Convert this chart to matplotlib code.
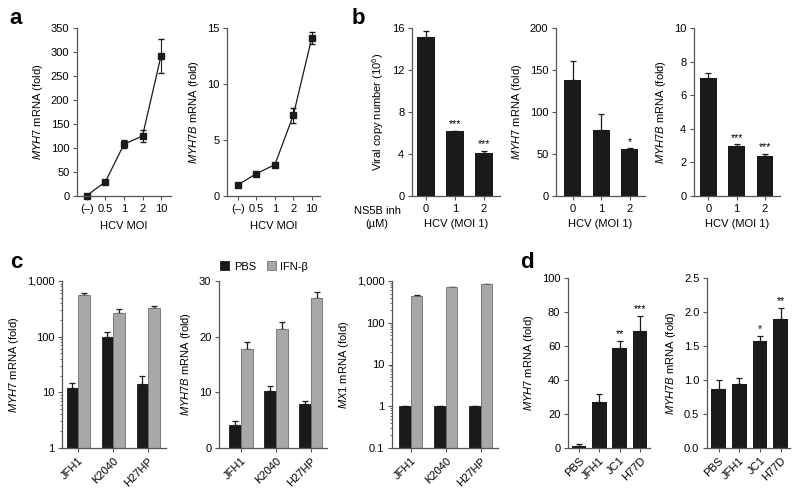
import matplotlib.pyplot as plt
import numpy as np

plt.rcParams['font.family'] = ['Liberation Sans', 'DejaVu Sans']
plt.rcParams['mathtext.fontset'] = 'custom'
plt.rcParams['mathtext.rm'] = 'Liberation Sans'
plt.rcParams['mathtext.it'] = 'Liberation Sans:italic'
plt.rcParams['font.size'] = 8

W, H = 800, 495
DARK = '#1a1a1a'
GRAY = '#a8a8a8'
SPINE = '#555555'
FS = 8

# ---- panel a ----
moi_labels = ['(–)', '0.5', '1', '2', '10']
a_myh7 = [1, 30, 108, 125, 292]
a_myh7_err = [2, 4, 9, 13, 35]
a_myh7b = [1.0, 2.0, 2.8, 7.2, 14.1]
a_myh7b_err = [0.1, 0.1, 0.15, 0.65, 0.55]

# ---- panel b ----
ns5b_doses = ['0', '1', '2']
b_viral = [15.1, 6.15, 4.1]
b_viral_err = [0.6, 0.05, 0.2]
b_viral_sig = ['', '***', '***']
b_myh7 = [138, 78, 56]
b_myh7_err = [23, 20, 1]
b_myh7_sig = ['', '', '*']
b_myh7b = [7.05, 3.0, 2.38]
b_myh7b_err = [0.3, 0.07, 0.12]
b_myh7b_sig = ['', '***', '***']

# ---- panel c ----
strains_c = ['JFH1', 'K2040', 'H27HP']
c_myh7_pbs = [12, 100, 14]
c_myh7_pbs_err = [3, 20, 6]
c_myh7_ifn = [550, 270, 330]
c_myh7_ifn_err = [50, 50, 30]
c_myh7b_pbs = [4.2, 10.2, 7.9]
c_myh7b_pbs_err = [0.6, 0.9, 0.5]
c_myh7b_ifn = [17.7, 21.3, 26.9]
c_myh7b_ifn_err = [1.4, 1.3, 1.1]
c_mx1_pbs = [1.0, 1.0, 1.0]
c_mx1_pbs_err = [0.03, 0.03, 0.03]
c_mx1_ifn = [430, 700, 830]
c_mx1_ifn_err = [25, 10, 15]

# ---- panel d ----
strains_d = ['PBS', 'JFH1', 'JC1', 'H77D']
d_myh7 = [1.4, 27.2, 59, 69]
d_myh7_err = [1.0, 4.8, 4, 8.8]
d_myh7_sig = ['', '', '**', '***']
d_myh7b = [0.87, 0.94, 1.57, 1.89]
d_myh7b_err = [0.13, 0.09, 0.08, 0.17]
d_myh7b_sig = ['', '', '*', '**']

fig = plt.figure(figsize=(W / 100, H / 100), dpi=100)


def make_ax(x0, x1, y0, y1):
    ax = fig.add_axes([x0 / W, 1 - y1 / H, (x1 - x0) / W, (y1 - y0) / H])
    for s in ['top', 'right']:
        ax.spines[s].set_visible(False)
    for s in ['left', 'bottom']:
        ax.spines[s].set_color(SPINE)
        ax.spines[s].set_linewidth(0.9)
    ax.tick_params(direction='out', length=3, width=0.8, color=SPINE,
                   labelsize=FS, pad=2.5)
    ax.tick_params(which='minor', length=1.6, width=0.6, color=SPINE)
    return ax


def ylab(ax, gene):
    ax.set_ylabel(r'$\it{' + gene + '}$ mRNA (fold)', fontsize=FS, labelpad=4)


def upper_err(ax, x, vals, errs):
    ax.errorbar(x, vals, yerr=[np.zeros(len(errs)), errs], fmt='none',
                ecolor=DARK, elinewidth=0.9, capsize=2.5, capthick=0.9, zorder=1)


def stars(ax, x, vals, errs, sig, off):
    for xi, v, e, s in zip(x, vals, errs, sig):
        if s:
            ax.text(xi, v + e + off, s, ha='center', va='bottom', fontsize=7.5)


# ---------- a ----------
ax = make_ax(77, 171, 28, 196)
x = np.arange(len(moi_labels))
ax.errorbar(x, a_myh7, yerr=a_myh7_err, fmt='-s', color=DARK, ms=4.5, lw=0.9,
            capsize=2.5, elinewidth=0.8, clip_on=False)
ax.set_xlim(-0.54, 4.54)
ax.set_ylim(0, 350)
ax.set_yticks(range(0, 351, 50))
ax.set_xticks(x, moi_labels)
ax.set_xlabel('HCV MOI', fontsize=FS, labelpad=5)
ylab(ax, 'MYH7')

ax = make_ax(227, 320, 28, 196)
ax.errorbar(x, a_myh7b, yerr=a_myh7b_err, fmt='-s', color=DARK, ms=4.5, lw=0.9,
            capsize=2.5, elinewidth=0.8, clip_on=False)
ax.set_xlim(-0.6, 4.45)
ax.set_ylim(0, 15)
ax.set_yticks([0, 5, 10, 15])
ax.set_xticks(x, moi_labels)
ax.set_xlabel('HCV MOI', fontsize=FS, labelpad=5)
ylab(ax, 'MYH7B')

# ---------- b ----------
xb = np.arange(len(ns5b_doses))
ax = make_ax(412, 500, 28, 196)
ax.bar(xb, b_viral, width=0.62, color=DARK, zorder=2)
upper_err(ax, xb, b_viral, b_viral_err)
stars(ax, xb, b_viral, b_viral_err, b_viral_sig, 0.2)
ax.set_xlim(-0.48, 2.55)
ax.set_ylim(0, 16)
ax.set_yticks([0, 4, 8, 12, 16])
ax.set_xticks(xb, ns5b_doses)
ax.set_xlabel('HCV (MOI 1)', fontsize=FS, labelpad=4)
ax.set_ylabel(r'Viral copy number (10$^{6}$)', fontsize=FS, labelpad=4)
fig.text(377 / W, 1 - 211 / H, 'NS5B inh', ha='center', va='center', fontsize=FS)
fig.text(377 / W, 1 - 224 / H, '(µM)', ha='center', va='center', fontsize=FS)

ax = make_ax(556, 645, 28, 196)
ax.bar(xb, b_myh7, width=0.6, color=DARK, zorder=2)
upper_err(ax, xb, b_myh7, b_myh7_err)
stars(ax, xb, b_myh7, b_myh7_err, b_myh7_sig, 1)
ax.set_xlim(-0.58, 2.54)
ax.set_ylim(0, 200)
ax.set_yticks([0, 50, 100, 150, 200])
ax.set_xticks(xb, ns5b_doses)
ax.set_xlabel('HCV (MOI 1)', fontsize=FS, labelpad=4)
ylab(ax, 'MYH7')

ax = make_ax(694, 780, 28, 196)
ax.bar(xb, b_myh7b, width=0.6, color=DARK, zorder=2)
upper_err(ax, xb, b_myh7b, b_myh7b_err)
stars(ax, xb, b_myh7b, b_myh7b_err, b_myh7b_sig, 0.1)
ax.set_xlim(-0.51, 2.53)
ax.set_ylim(0, 10)
ax.set_yticks([0, 2, 4, 6, 8, 10])
ax.set_xticks(xb, ns5b_doses)
ax.set_xlabel('HCV (MOI 1)', fontsize=FS, labelpad=4)
ylab(ax, 'MYH7B')

# ---------- c ----------
xc = np.arange(len(strains_c))
bw = 0.33


def grouped(ax, pbs, pbs_err, ifn, ifn_err, base):
    pbs = np.array(pbs, float)
    ifn = np.array(ifn, float)
    ax.bar(xc - bw / 2, pbs - base, bottom=base, width=bw, color=DARK,
           edgecolor=DARK, lw=0.6, zorder=2, label='PBS')
    ax.bar(xc + bw / 2, ifn - base, bottom=base, width=bw, color=GRAY,
           edgecolor='#6e6e6e', lw=0.6, zorder=2, label='IFN-β')
    upper_err(ax, xc - bw / 2, pbs, pbs_err)
    upper_err(ax, xc + bw / 2, ifn, ifn_err)
    ax.set_xticks(xc, strains_c, rotation=45, ha='right', rotation_mode='anchor')


ax = make_ax(62, 166, 281, 448)
ax.set_yscale('log')
grouped(ax, c_myh7_pbs, c_myh7_pbs_err, c_myh7_ifn, c_myh7_ifn_err, 1)
ax.set_ylim(1, 1000)
ax.set_yticks([1, 10, 100, 1000], ['1', '10', '100', '1,000'])
ax.set_xlim(-0.46, 2.51)
ylab(ax, 'MYH7')

ax = make_ax(219, 327, 281, 448)
grouped(ax, c_myh7b_pbs, c_myh7b_pbs_err, c_myh7b_ifn, c_myh7b_ifn_err, 0)
ax.set_ylim(0, 30)
ax.set_yticks([0, 10, 20, 30])
ax.set_xlim(-0.63, 2.46)
ylab(ax, 'MYH7B')
ax.legend(loc='lower center', bbox_to_anchor=(0.42, 1.03), ncol=2, frameon=False,
          handlelength=0.8, handleheight=0.8, handletextpad=0.4, columnspacing=1.0,
          fontsize=FS, borderaxespad=0)

ax = make_ax(392, 498, 281, 448)
ax.set_yscale('log')
grouped(ax, c_mx1_pbs, c_mx1_pbs_err, c_mx1_ifn, c_mx1_ifn_err, 0.1)
ax.set_ylim(0.1, 1000)
ax.set_yticks([0.1, 1, 10, 100, 1000], ['0.1', '1', '10', '100', '1,000'])
ax.set_xlim(-0.54, 2.49)
ylab(ax, 'MX1')

# ---------- d ----------
xd = np.arange(len(strains_d))
ax = make_ax(568, 650, 278, 448)
ax.bar(xd, d_myh7, width=0.71, color=DARK, zorder=2)
upper_err(ax, xd, d_myh7, d_myh7_err)
stars(ax, xd, d_myh7, d_myh7_err, d_myh7_sig, 1)
ax.set_ylim(0, 100)
ax.set_yticks(range(0, 101, 20))
ax.set_xlim(-0.54, 3.49)
ax.set_xticks(xd, strains_d, rotation=45, ha='right', rotation_mode='anchor')
ylab(ax, 'MYH7')

ax = make_ax(707, 790, 278, 448)
ax.bar(xd, d_myh7b, width=0.71, color=DARK, zorder=2)
upper_err(ax, xd, d_myh7b, d_myh7b_err)
stars(ax, xd, d_myh7b, d_myh7b_err, d_myh7b_sig, 0.02)
ax.set_ylim(0, 2.5)
ax.set_yticks([0, 0.5, 1.0, 1.5, 2.0, 2.5], ['0.0', '0.5', '1.0', '1.5', '2.0', '2.5'])
ax.set_xlim(-0.56, 3.46)
ax.set_xticks(xd, strains_d, rotation=45, ha='right', rotation_mode='anchor')
ylab(ax, 'MYH7B')

# panel letters
for lab, px, py in [('a', 16, 18), ('b', 358, 18), ('c', 16, 263), ('d', 527, 263)]:
    fig.text(px / W, 1 - py / H, lab, fontsize=16, fontweight='bold',
             ha='center', va='center')

fig.savefig('out.png', dpi=100)
